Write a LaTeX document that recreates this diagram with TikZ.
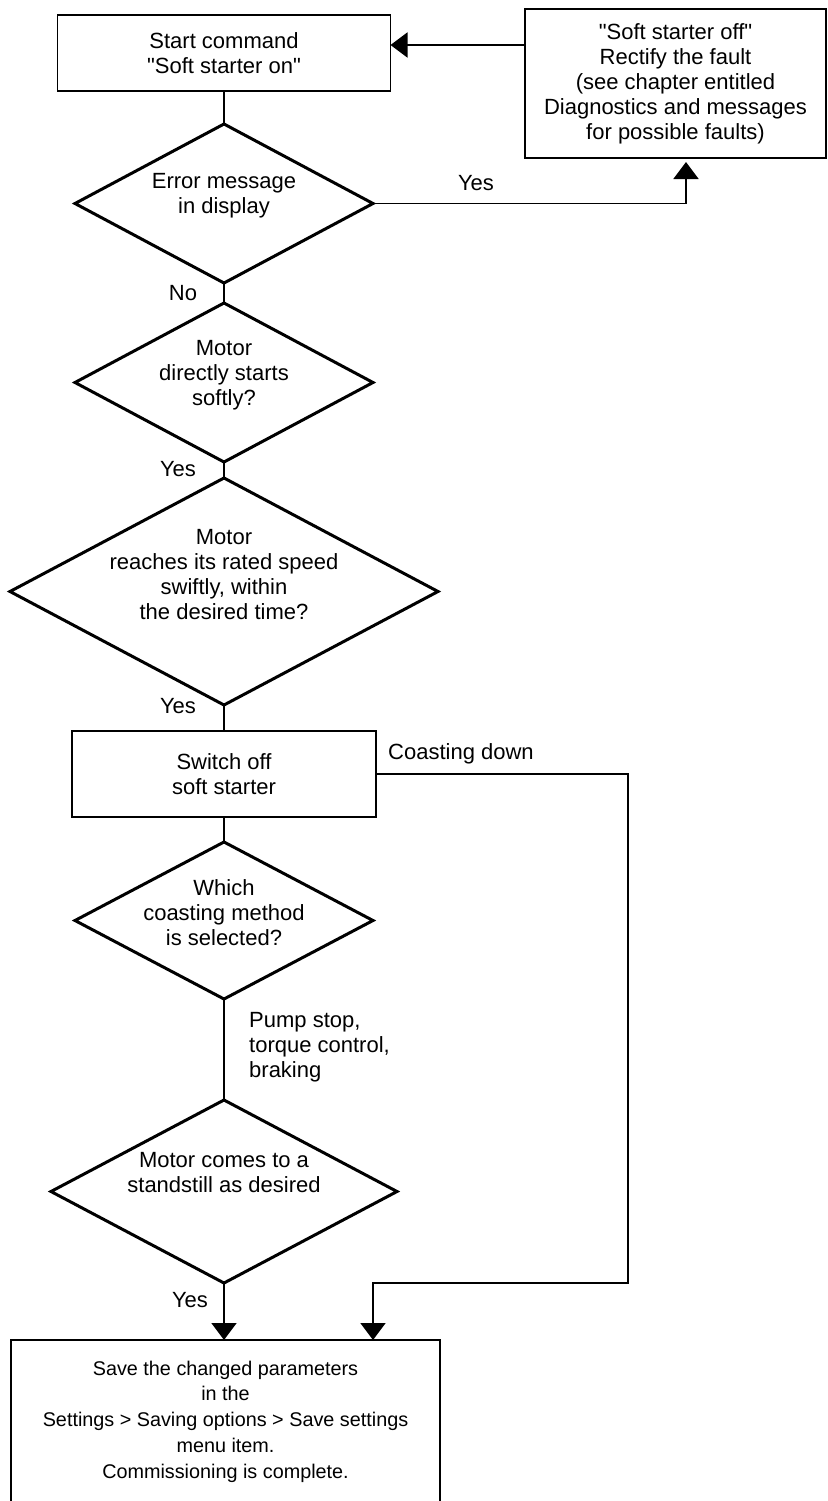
\documentclass[tikz,border=0pt]{standalone}
\usepackage{fontspec}
\setmainfont{Liberation Sans}
\usetikzlibrary{shapes.geometric,arrows.meta}
\begin{document}
\begin{tikzpicture}[x=1pt,y=1pt,
  font=\fontsize{22}{25}\selectfont,
  box/.style={draw, line width=1.8pt, align=center, inner sep=0pt, outer sep=0pt},
  dec/.style={draw, diamond, line width=3pt, inner sep=0pt, outer sep=0pt},
  txt/.style={align=center, inner sep=0pt},
  line/.style={line width=1.8pt},
  arr/.style={line width=1.8pt, -{Triangle[length=17pt,width=25pt]}}]
\useasboundingbox (0,0) rectangle (827,-1501);
\node[box, minimum width=333pt, minimum height=76pt] (start) at (224,-53) {Start command\\\textquotedbl Soft starter on\textquotedbl};
\node[box, minimum width=301pt, minimum height=149pt] (fault) at (675.5,-83.5) {\textquotedbl Soft starter off\textquotedbl\\Rectify the fault\\(see chapter entitled\\Diagnostics and messages\\for possible faults)};
\node[dec, minimum width=298pt, minimum height=159pt] (err) at (224,-203.5) {};
\node[txt] (errt) at ([yshift=7.5]err.center) {Error message\\in display};
\node[dec, minimum width=298pt, minimum height=159pt] (soft) at (224,-382.5) {};
\node[txt] (softt) at ([yshift=7.5]soft.center) {Motor\\directly starts\\softly?};
\node[dec, minimum width=428pt, minimum height=227pt] (speed) at (224,-591.5) {};
\node[txt] (speedt) at ([yshift=16.5]speed.center) {Motor\\reaches its rated speed\\swiftly, within\\the desired time?};
\node[box, minimum width=304pt, minimum height=86pt] (switch) at (224,-774) {Switch off\\soft starter};
\node[dec, minimum width=298pt, minimum height=157pt] (coast) at (224,-920.5) {};
\node[txt] (coastt) at ([yshift=7.5]coast.center) {Which\\coasting method\\is selected?};
\node[txt, align=left, anchor=west] (pump) at (249,-1047) {Pump stop,\\torque control,\\braking};
\node[dec, minimum width=346pt, minimum height=183pt] (stand) at (224,-1191.5) {};
\node[txt] (standt) at ([yshift=19]stand.center) {Motor comes to a\\standstill as desired};
\node[box, minimum width=429pt, minimum height=163pt, font=\fontsize{19.8}{25.75}\selectfont] (save) at (225.5,-1421.5) {Save the changed parameters\\in the\\Settings > Saving options > Save settings\\menu item.\\Commissioning is complete.};
\node[txt] (yes1) at (476,-183) {Yes};
\node[txt] (no1) at (183,-293) {No};
\node[txt] (yes2) at (178,-469) {Yes};
\node[txt] (yes3) at (178,-706) {Yes};
\node[txt, anchor=west] (cd) at (388,-754) {Coasting down};
\node[txt] (yes4) at (190,-1300) {Yes};
\coordinate (fx) at (525,-45);
\coordinate (fy) at (686,-162);
\coordinate (cr) at (628,-1283);
\coordinate (cb) at (373,-1283);
\draw[line] (start) -- (err);
\draw[line] (err) -- (soft);
\draw[line] (soft) -- (speed);
\draw[line] (speed) -- (switch);
\draw[line] (switch) -- (coast);
\draw[line] (coast) -- (stand);
\draw[arr] (stand) -- (stand |- save.north);
\draw[arr] (err.east) -| (fy);
\draw[arr] (fx) -- (fx -| start.east);
\draw[arr] (switch.east) -- (switch.east -| cr) -- (cr) -- (cb) -- (cb |- save.north);
\end{tikzpicture}
\end{document}
